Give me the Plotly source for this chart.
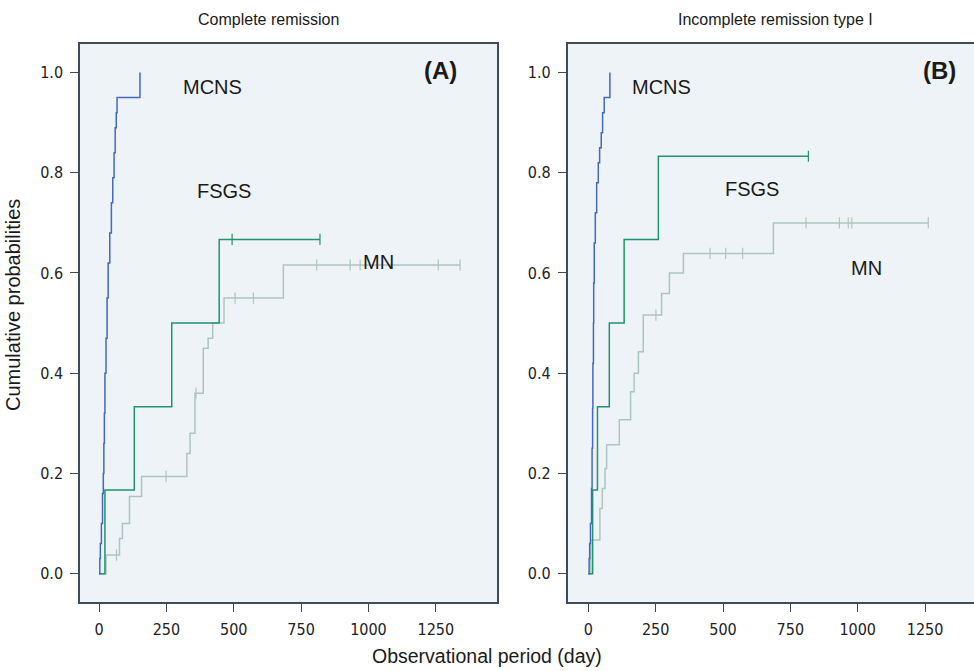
import plotly.graph_objects as go

# ---------------- data ----------------
# Panel A: Complete remission
a_mcns_t = [0, 3, 5, 9, 13, 16, 18, 20, 22, 26, 30, 34, 40, 46, 51, 56, 60, 64, 67, 152]
a_mcns_p = [0, 0.03, 0.06, 0.10, 0.16, 0.20, 0.26, 0.32, 0.40, 0.47, 0.55, 0.62, 0.68, 0.74, 0.79, 0.84, 0.89, 0.92, 0.95, 1.0]

a_fsgs_t = [0, 22, 131, 270, 446, 820]
a_fsgs_p = [0, 0.167, 0.333, 0.5, 0.667, 0.667]
a_fsgs_cens = [494, 820]

a_mn_t = [0, 26, 76, 87, 113, 158, 326, 338, 356, 387, 405, 422, 464, 684, 1340]
a_mn_p = [0, 0.037, 0.07, 0.10, 0.154, 0.194, 0.24, 0.28, 0.36, 0.45, 0.47, 0.5, 0.55, 0.616, 0.616]
a_mn_cens = [65, 249, 360, 505, 573, 808, 932, 969, 1259, 1340]

# Panel B: Incomplete remission type I
b_mcns_t = [0, 3, 5, 8, 12, 14, 16, 17, 19, 20, 22, 26, 31, 37, 42, 48, 53, 59, 80]
b_mcns_p = [0, 0.03, 0.06, 0.10, 0.17, 0.25, 0.33, 0.42, 0.50, 0.58, 0.66, 0.72, 0.78, 0.82, 0.85, 0.88, 0.92, 0.95, 1.0]

b_fsgs_t = [0, 16, 34, 78, 133, 260, 817]
b_fsgs_p = [0, 0.167, 0.333, 0.5, 0.667, 0.833, 0.833]
b_fsgs_cens = [817]

b_mn_t = [0, 9, 43, 52, 62, 68, 115, 157, 170, 186, 204, 272, 301, 353, 687, 1262]
b_mn_p = [0, 0.067, 0.13, 0.17, 0.21, 0.257, 0.307, 0.363, 0.40, 0.443, 0.516, 0.559, 0.60, 0.639, 0.70, 0.70]
b_mn_cens = [251, 452, 510, 573, 808, 932, 965, 978, 1262]

x_ticks = [0, 250, 500, 750, 1000, 1250]
y_ticks = [0.0, 0.2, 0.4, 0.6, 0.8, 1.0]

C_MCNS = "#4469bd"
C_FSGS = "#22936a"
C_MN = "#adc6bd"
FRAME = "#3e4b58"
BG = "#eef3f7"


def step_at(ts, ps, t):
    v = ps[0]
    for ti, pi in zip(ts, ps):
        if ti <= t:
            v = pi
    return v


fig = go.Figure()


def add_curve(ts, ps, color, xa, ya, cens=None, width=1.5):
    fig.add_trace(go.Scatter(x=ts, y=ps, mode="lines", line=dict(color=color, width=width, shape="hv"),
                             xaxis=xa, yaxis=ya, showlegend=False, hoverinfo="skip"))
    if cens:
        fig.add_trace(go.Scatter(x=cens, y=[step_at(ts, ps, c) for c in cens], mode="markers",
                                 marker=dict(symbol="line-ns", size=8, line=dict(color=color, width=1.2)),
                                 xaxis=xa, yaxis=ya, showlegend=False, hoverinfo="skip"))


add_curve(a_mn_t, a_mn_p, C_MN, "x", "y", a_mn_cens)
add_curve(a_fsgs_t, a_fsgs_p, C_FSGS, "x", "y", a_fsgs_cens)
add_curve(a_mcns_t, a_mcns_p, C_MCNS, "x", "y")
add_curve(b_mn_t, b_mn_p, C_MN, "x2", "y2", b_mn_cens)
add_curve(b_fsgs_t, b_fsgs_p, C_FSGS, "x2", "y2", b_fsgs_cens)
add_curve(b_mcns_t, b_mcns_p, C_MCNS, "x2", "y2")

W, H = 974, 671
NARROW = "Liberation Sans Narrow, Arial Narrow, DejaVu Sans Condensed, Liberation Sans, Arial, sans-serif"
tickfont = dict(family=NARROW, size=16, color="#222")

xcommon = dict(tickvals=x_ticks, ticks="outside", ticklen=9, tickcolor=FRAME, tickwidth=1.3,
               showgrid=False, zeroline=False, showline=True, linecolor=FRAME, linewidth=1.5,
               mirror=True, tickfont=tickfont, fixedrange=True, ticklabelstandoff=3)
ycommon = dict(tickvals=y_ticks, tickformat=".1f", ticks="outside", ticklen=8, tickcolor=FRAME, tickwidth=1.3,
               showgrid=False, zeroline=False, showline=True, linecolor=FRAME, linewidth=1.5,
               tickfont=tickfont, fixedrange=True, ticklabelstandoff=4)

ydom = [1 - 601.7 / H, 1 - 44 / H]
fig.update_layout(
    width=W, height=H,
    margin=dict(l=0, r=0, t=0, b=0),
    paper_bgcolor="white",
    plot_bgcolor=BG,
    xaxis=dict(domain=[80 / W, 497 / W], range=[-70.5, 1477], anchor="y", **xcommon),
    yaxis=dict(domain=ydom, range=[-0.056, 1.057], anchor="x", mirror=True, **ycommon),
    xaxis2=dict(domain=[567.7 / W, 1.0], range=[-76.5, 1431.7], anchor="y2", **xcommon),
    yaxis2=dict(domain=ydom, range=[-0.056, 1.057], anchor="x2", mirror=False, **ycommon),
)

lab = dict(family="Liberation Sans, Arial, sans-serif", size=20, color="#1a1a1a")
ttl = dict(family="Liberation Sans Narrow, Arial Narrow, Liberation Sans, Arial, sans-serif", size=16, color="#1a1a1a")
bold = dict(family="Liberation Sans, Arial, sans-serif", size=24, color="#1a1a1a")


def ann(text, x, y, font, **kw):
    fig.add_annotation(text=text, x=x / W, y=1 - y / H, xref="paper", yref="paper",
                       xanchor="center", yanchor="middle",
                       showarrow=False, font=font, **kw)


ann("Complete remission", 268, 19, ttl)
ann("Incomplete remission type I", 775, 19, ttl)
ann("MCNS", 212, 87, lab)
ann("FSGS", 224, 191, lab)
ann("MN", 378, 262, lab)
ann("<b>(A)</b>", 440, 70, bold)
ann("MCNS", 661, 87, lab)
ann("FSGS", 752, 189, lab)
ann("MN", 866, 268, lab)
ann("<b>(B)</b>", 939, 70, bold)
ann("Observational period (day)", 487, 656, dict(family="Liberation Sans Narrow, Arial Narrow, Liberation Sans, Arial, sans-serif", size=19.5, color="#1a1a1a"))
ann("Cumulative probabilities", 13, 305, dict(family="Liberation Sans, Arial, sans-serif", size=20, color="#1a1a1a"), textangle=-90)

fig.write_html("out.html", post_script="document.body.style.margin='0px';",
               config={"displayModeBar": False})
